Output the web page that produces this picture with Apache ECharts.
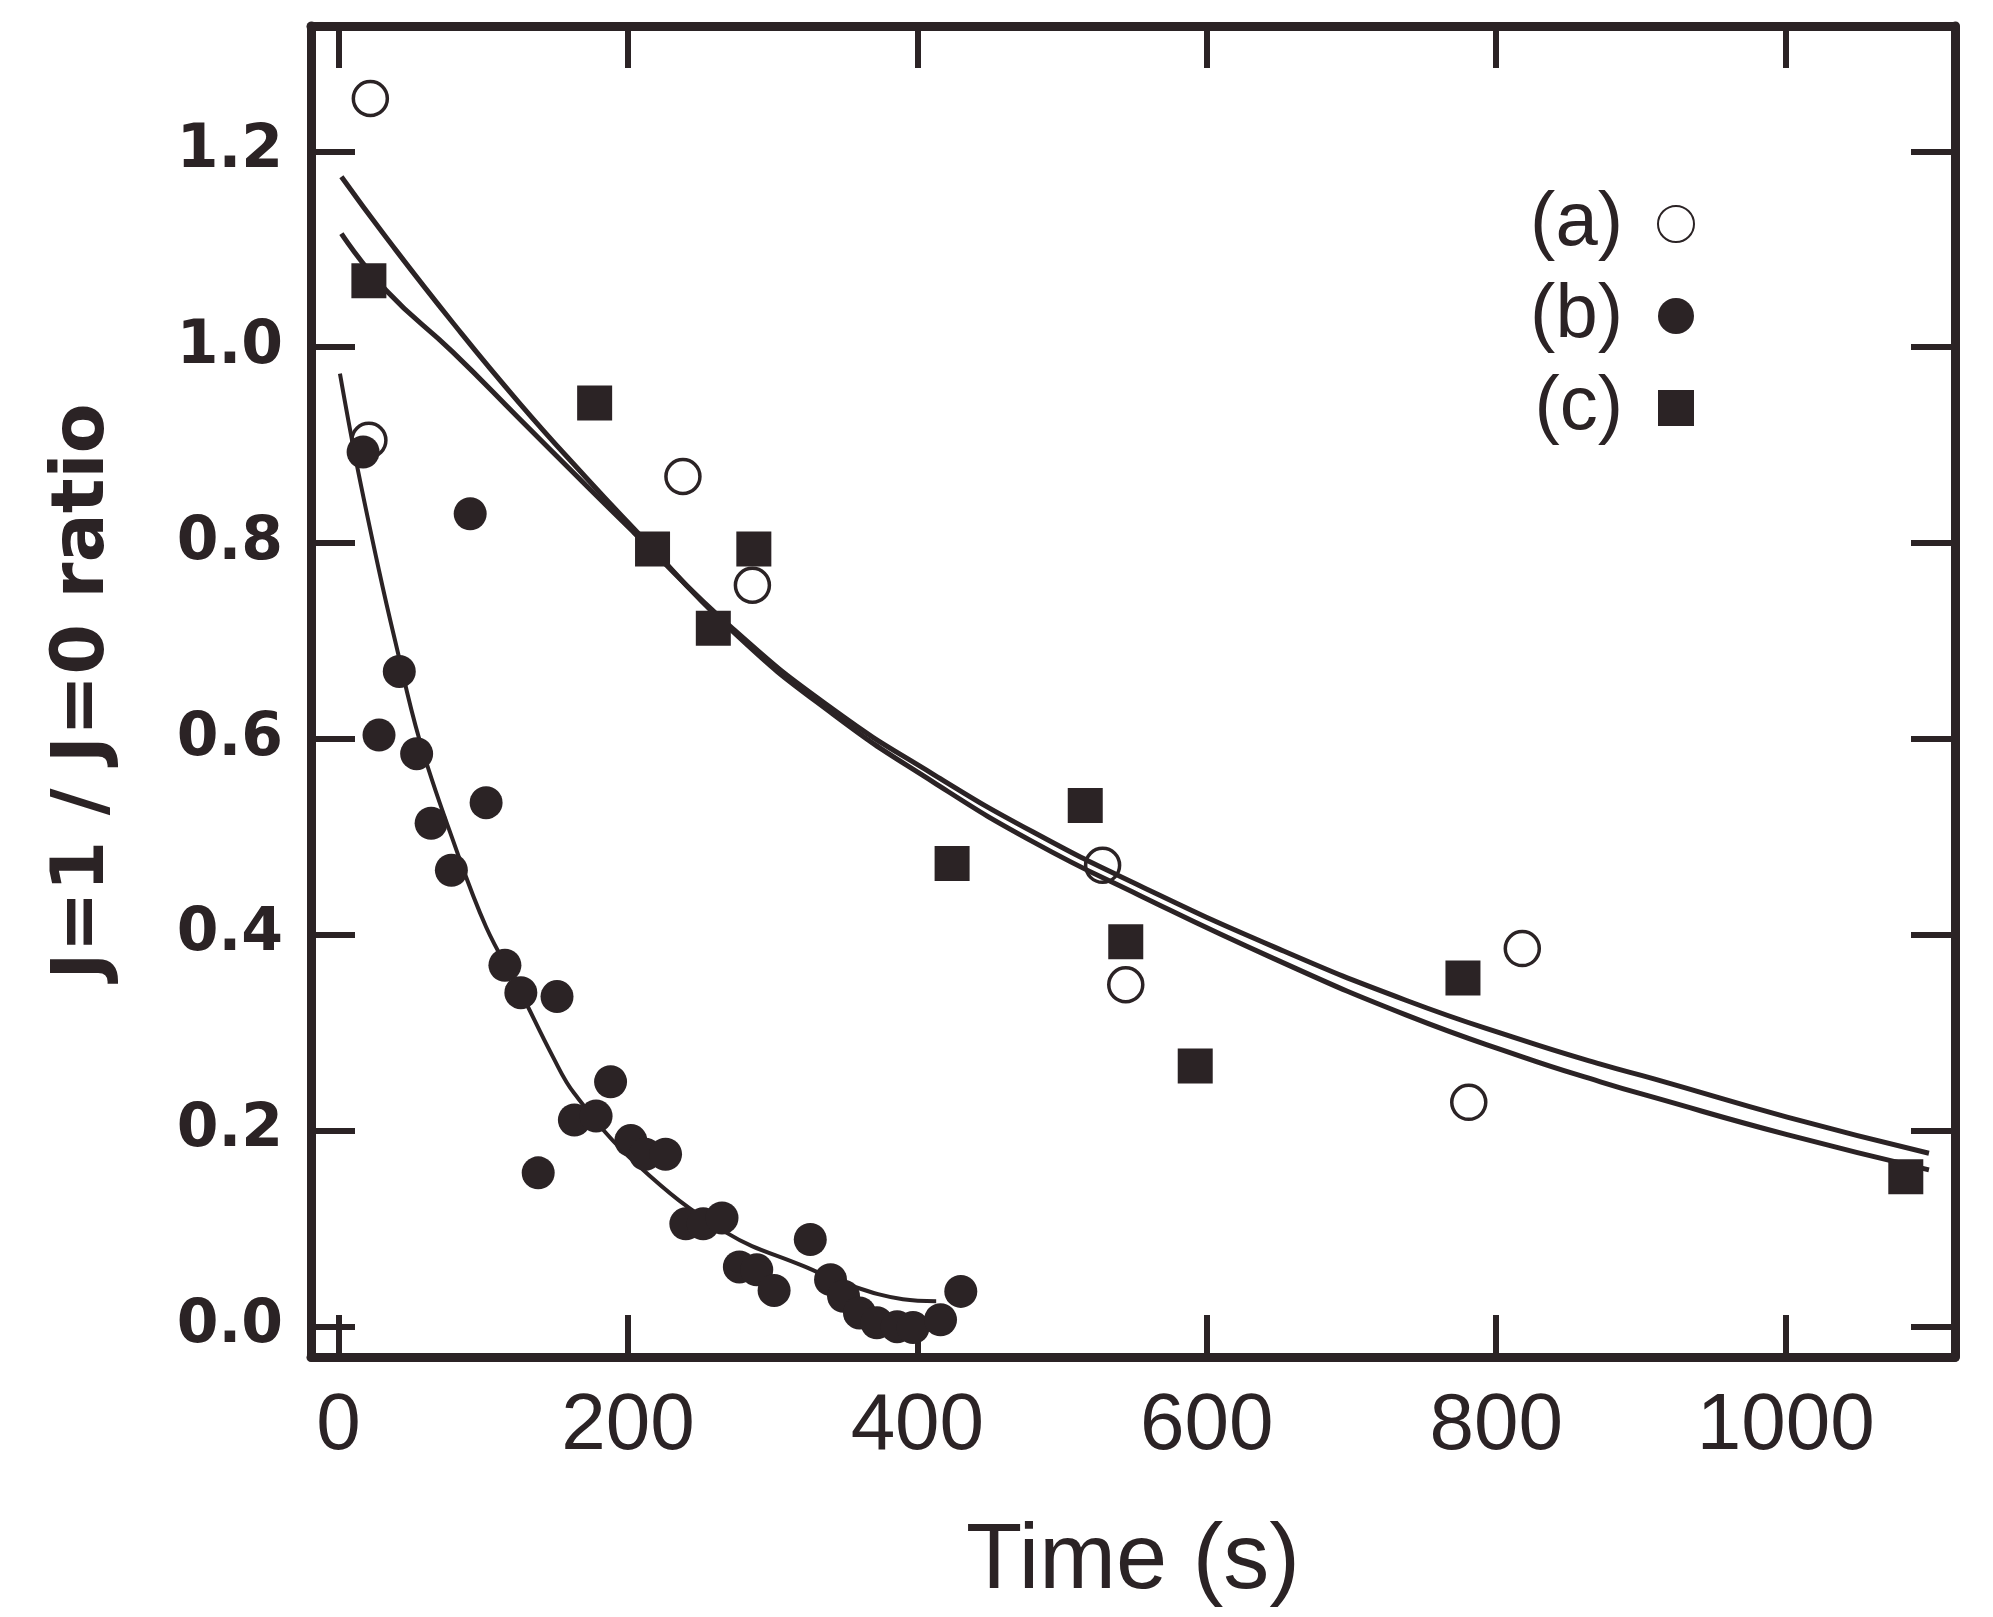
<!DOCTYPE html>
<html>
<head>
<meta charset="utf-8">
<script src="https://cdn.jsdelivr.net/npm/echarts@6/dist/echarts.min.js"></script>
<style>
  html, body { margin: 0; padding: 0; background: #fff; }
  #chart { width: 1993px; height: 1617px; }
</style>
</head>
<body>
<div id="chart"></div>
<script>
// ---- data ----
const xTicks = [0, 200, 400, 600, 800, 1000];
const yTicks = [0, 0.2, 0.4, 0.6, 0.8, 1.0, 1.2];

// (a) open circles
const aTime  = [22, 21, 238, 286, 528, 544, 781, 818];
const aRatio = [1.254, 0.905, 0.868, 0.757, 0.471, 0.349, 0.229, 0.386];

// (b) filled circles
const bTime  = [17, 28, 42, 54, 64, 78, 91, 102, 115, 126, 138, 151, 163, 178, 188, 202, 212, 226,
                240, 252, 265, 277, 289, 301, 326, 340, 349, 360, 372, 386, 397, 416, 430];
const bRatio = [0.893, 0.604, 0.669, 0.585, 0.514, 0.466, 0.830, 0.535, 0.369, 0.341, 0.157, 0.337,
                0.211, 0.215, 0.250, 0.190, 0.176, 0.176, 0.105, 0.105, 0.111, 0.061, 0.058, 0.037,
                0.089, 0.048, 0.031, 0.014, 0.004, 0.000, -0.001, 0.007, 0.036];

// (c) filled squares
const cTime  = [21, 177, 217, 259, 287, 424, 516, 544, 592, 777, 1083];
const cRatio = [1.068, 0.943, 0.794, 0.713, 0.794, 0.473, 0.532, 0.393, 0.266, 0.356, 0.153];

// fitted curves
const fitTimeAC = [2, 33, 79, 125, 171, 204, 273, 342, 411, 480, 554, 646, 738, 817, 872, 909, 1001, 1099];
const fitA      = [1.174, 1.112, 1.025, 0.943, 0.867, 0.815, 0.709, 0.625, 0.556, 0.495, 0.440, 0.376, 0.318, 0.276, 0.250, 0.234, 0.196, 0.160];
const fitC      = [1.116, 1.058, 0.995, 0.927, 0.859, 0.811, 0.712, 0.630, 0.564, 0.505, 0.450, 0.388, 0.333, 0.293, 0.268, 0.253, 0.214, 0.177];
const fitTimeB  = [1, 12, 28, 39, 56, 79, 102, 125, 148, 163, 206, 268, 321, 356, 390, 413];
const fitB      = [0.973, 0.885, 0.772, 0.701, 0.599, 0.497, 0.408, 0.344, 0.276, 0.238, 0.166, 0.096, 0.062, 0.041, 0.028, 0.026];

// ---- build ----
const INK = '#2b2325';
const zip = (xs, ys) => xs.map((x, i) => [x, ys[i]]);

const X_MIN = -19, X_MAX = 1117;
const Y_MIN = -0.031, Y_MAX = 1.328;

function xAxisDef(pos, showLabels) {
  return {
    type: 'value', position: pos, min: X_MIN, max: X_MAX,
    axisLine: { show: true, onZero: false, lineStyle: { color: INK, width: 9 } },
    axisTick: { show: true, inside: true, length: 42, customValues: xTicks, lineStyle: { color: INK, width: 6 } },
    axisLabel: {
      show: showLabels, customValues: xTicks, margin: 30,
      formatter: v => String(v),
      fontFamily: 'Liberation Sans', fontSize: 80, color: INK
    },
    splitLine: { show: false },
    name: showLabels ? 'Time (s)' : '',
    nameLocation: 'middle', nameGap: 160,
    nameTextStyle: { fontFamily: 'Liberation Sans', fontSize: 92, color: INK }
  };
}
function yAxisDef(pos, showLabels) {
  return {
    type: 'value', position: pos, min: Y_MIN, max: Y_MAX,
    axisLine: { show: true, onZero: false, lineStyle: { color: INK, width: 9 } },
    axisTick: { show: true, inside: true, length: 44, customValues: yTicks, lineStyle: { color: INK, width: 6 } },
    axisLabel: {
      show: showLabels, customValues: yTicks, margin: 28,
      formatter: v => v.toFixed(1),
      fontFamily: 'DejaVu Sans', fontWeight: 'bold', fontSize: 60, color: INK
    },
    splitLine: { show: false },
    name: showLabels ? 'J=1 / J=0 ratio' : '',
    nameLocation: 'middle', nameGap: 190,
    nameTextStyle: { fontFamily: 'DejaVu Sans', fontWeight: 'bold', fontSize: 73, color: INK }
  };
}

const option = {
  animation: false,
  backgroundColor: '#ffffff',
  grid: { left: 311, right: 38, top: 26, bottom: 260, containLabel: false, outerBoundsMode: 'none' },
  legend: {
    data: ['(a)', '(b)', '(c)'],
    orient: 'vertical', right: 293, top: 181, align: 'right',
    itemWidth: 36, itemHeight: 36, itemGap: 16,
    textStyle: { fontFamily: 'Liberation Sans', fontSize: 76, lineHeight: 64, color: INK, padding: [0, 30, 0, 0] }
  },
  xAxis: [xAxisDef('bottom', true), xAxisDef('top', false)],
  yAxis: [yAxisDef('left', true), yAxisDef('right', false)],
  series: [
    { name: 'fit (a)', type: 'line', data: zip(fitTimeAC, fitA), smooth: 0.5,
      showSymbol: false, lineStyle: { color: INK, width: 5 }, z: 1 },
    { name: 'fit (c)', type: 'line', data: zip(fitTimeAC, fitC), smooth: 0.5,
      showSymbol: false, lineStyle: { color: INK, width: 5 }, z: 1 },
    { name: 'fit (b)', type: 'line', data: zip(fitTimeB, fitB), smooth: 0.4,
      showSymbol: false, lineStyle: { color: INK, width: 4 }, z: 1 },
    { name: '(a)', type: 'scatter', data: zip(aTime, aRatio), symbol: 'circle', symbolSize: 34,
      itemStyle: { color: 'rgba(255,255,255,0)', borderColor: INK, borderWidth: 3.5, opacity: 1 }, z: 3 },
    { name: '(c)', type: 'scatter', data: zip(cTime, cRatio), symbol: 'rect', symbolSize: 35,
      itemStyle: { color: INK, opacity: 1 }, z: 4 },
    { name: '(b)', type: 'scatter', data: zip(bTime, bRatio), symbol: 'circle', symbolSize: 33,
      itemStyle: { color: INK, opacity: 1 }, z: 5 }
  ]
};

const chart = echarts.init(document.getElementById('chart'), null, { renderer: 'canvas' });
chart.setOption(option);
</script>
</body>
</html>
